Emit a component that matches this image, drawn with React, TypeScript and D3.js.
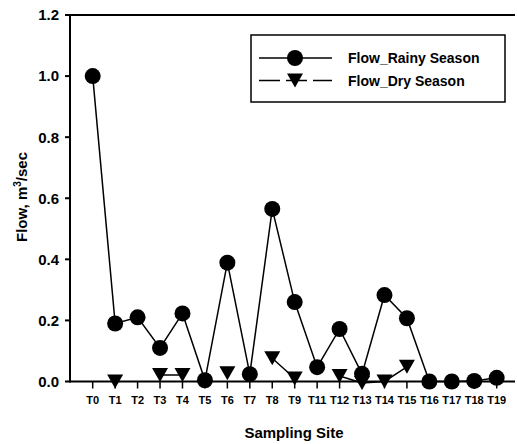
import React from "react";
import * as d3 from "d3";

const sites = ["T0", "T1", "T2", "T3", "T4", "T5", "T6", "T7", "T8", "T9", "T11", "T12", "T13", "T14", "T15", "T16", "T17", "T18", "T19"];
const rainy: (number | null)[] = [1.0, 0.19, 0.21, 0.11, 0.223, 0.004, 0.389, 0.024, 0.565, 0.26, 0.047, 0.172, 0.025, 0.283, 0.207, 0.0, 0.0, 0.002, 0.012];
const dry: (number | null)[] = [null, 0.0, null, 0.021, 0.021, null, 0.027, null, 0.076, 0.01, null, 0.018, -0.005, 0.0, 0.048, null, null, null, null];
const yTicks = [0.0, 0.2, 0.4, 0.6, 0.8, 1.0, 1.2];
const seriesNames = ["Flow_Rainy Season", "Flow_Dry Season"];

const W = 517;
const H = 444;
const left = 70;
const right = 515;
const top = 15;
const bottom = 381.5;
const font = "Arial, 'Liberation Sans', Helvetica, sans-serif";

export default function App() {
  const x = d3.scalePoint<string>().domain(sites).range([92.7, 496.7]);
  const y = d3.scaleLinear().domain([0, 1.2]).range([bottom, top]);

  const line = d3
    .line<[string, number | null]>()
    .defined((d) => d[1] !== null)
    .x((d) => x(d[0]) as number)
    .y((d) => y(d[1] as number));

  const rainyPts = sites.map((s, i) => [s, rainy[i]] as [string, number | null]);
  const dryPts = sites.map((s, i) => [s, dry[i]] as [string, number | null]);

  const tri = (cx: number, cy: number) =>
    `M${cx - 8},${cy - 7} L${cx + 8},${cy - 7} L${cx},${cy + 7} Z`;

  return (
    <svg width={W} height={H} style={{ position: "absolute", left: 0, top: 0 }} fontFamily={font}>
      <rect width={W} height={H} fill="#fff" />
      {/* frame */}
      <line x1={left} x2={right} y1={top} y2={top} stroke="#000" strokeWidth={2} />
      <line x1={left} x2={right} y1={bottom} y2={bottom} stroke="#000" strokeWidth={2} />
      <line x1={left} x2={left} y1={top - 1} y2={bottom + 1} stroke="#000" strokeWidth={2} />
      {/* y ticks */}
      {yTicks.map((t) => (
        <g key={t}>
          <line x1={left - 5} x2={left} y1={y(t)} y2={y(t)} stroke="#000" strokeWidth={2} />
          <text x={59} y={y(t)} dy="0.36em" textAnchor="end" fontSize={15} fontWeight="bold">
            {t.toFixed(1)}
          </text>
        </g>
      ))}
      {/* x ticks */}
      {sites.map((s) => (
        <g key={s}>
          <line x1={x(s)} x2={x(s)} y1={bottom} y2={bottom + 7} stroke="#000" strokeWidth={1.5} />
          <text x={x(s)} y={400} dy="0.36em" textAnchor="middle" fontSize={11} fontWeight="bold">
            {s}
          </text>
        </g>
      ))}
      {/* axis titles */}
      <text x={294} y={433} dy="0.36em" textAnchor="middle" fontSize={15} fontWeight="bold">
        Sampling Site
      </text>
      <text
        transform={`translate(22,197) rotate(-90)`}
        textAnchor="middle"
        dy="0.36em"
        fontSize={15}
        fontWeight="bold"
      >
        Flow, m<tspan dy="-6" fontSize={10}>3</tspan>
        <tspan dy="6">/sec</tspan>
      </text>
      {/* series */}
      <path d={line(rainyPts) ?? ""} fill="none" stroke="#000" strokeWidth={1.5} />
      <path d={line(dryPts) ?? ""} fill="none" stroke="#000" strokeWidth={1.5} />
      {rainyPts
        .filter((d) => d[1] !== null)
        .map((d) => (
          <circle key={"r" + d[0]} cx={x(d[0])} cy={y(d[1] as number)} r={8} fill="#000" />
        ))}
      {dryPts
        .filter((d) => d[1] !== null)
        .map((d) => (
          <path key={"d" + d[0]} d={tri(x(d[0]) as number, y(d[1] as number))} fill="#000" />
        ))}
      {/* legend */}
      <rect x={251} y={35} width={254} height={67} fill="#fff" stroke="#000" strokeWidth={1.5} />
      <line x1={259} x2={332} y1={58} y2={58} stroke="#000" strokeWidth={1.5} />
      <circle cx={295} cy={58} r={8} fill="#000" />
      <text x={348} y={58} dy="0.36em" fontSize={14} fontWeight="bold">
        {seriesNames[0]}
      </text>
      <line x1={259} x2={332} y1={80.5} y2={80.5} stroke="#000" strokeWidth={1.5} strokeDasharray="21,6" />
      <path d={tri(295, 80.5)} fill="#000" />
      <text x={348} y={80.5} dy="0.36em" fontSize={14} fontWeight="bold">
        {seriesNames[1]}
      </text>
    </svg>
  );
}
